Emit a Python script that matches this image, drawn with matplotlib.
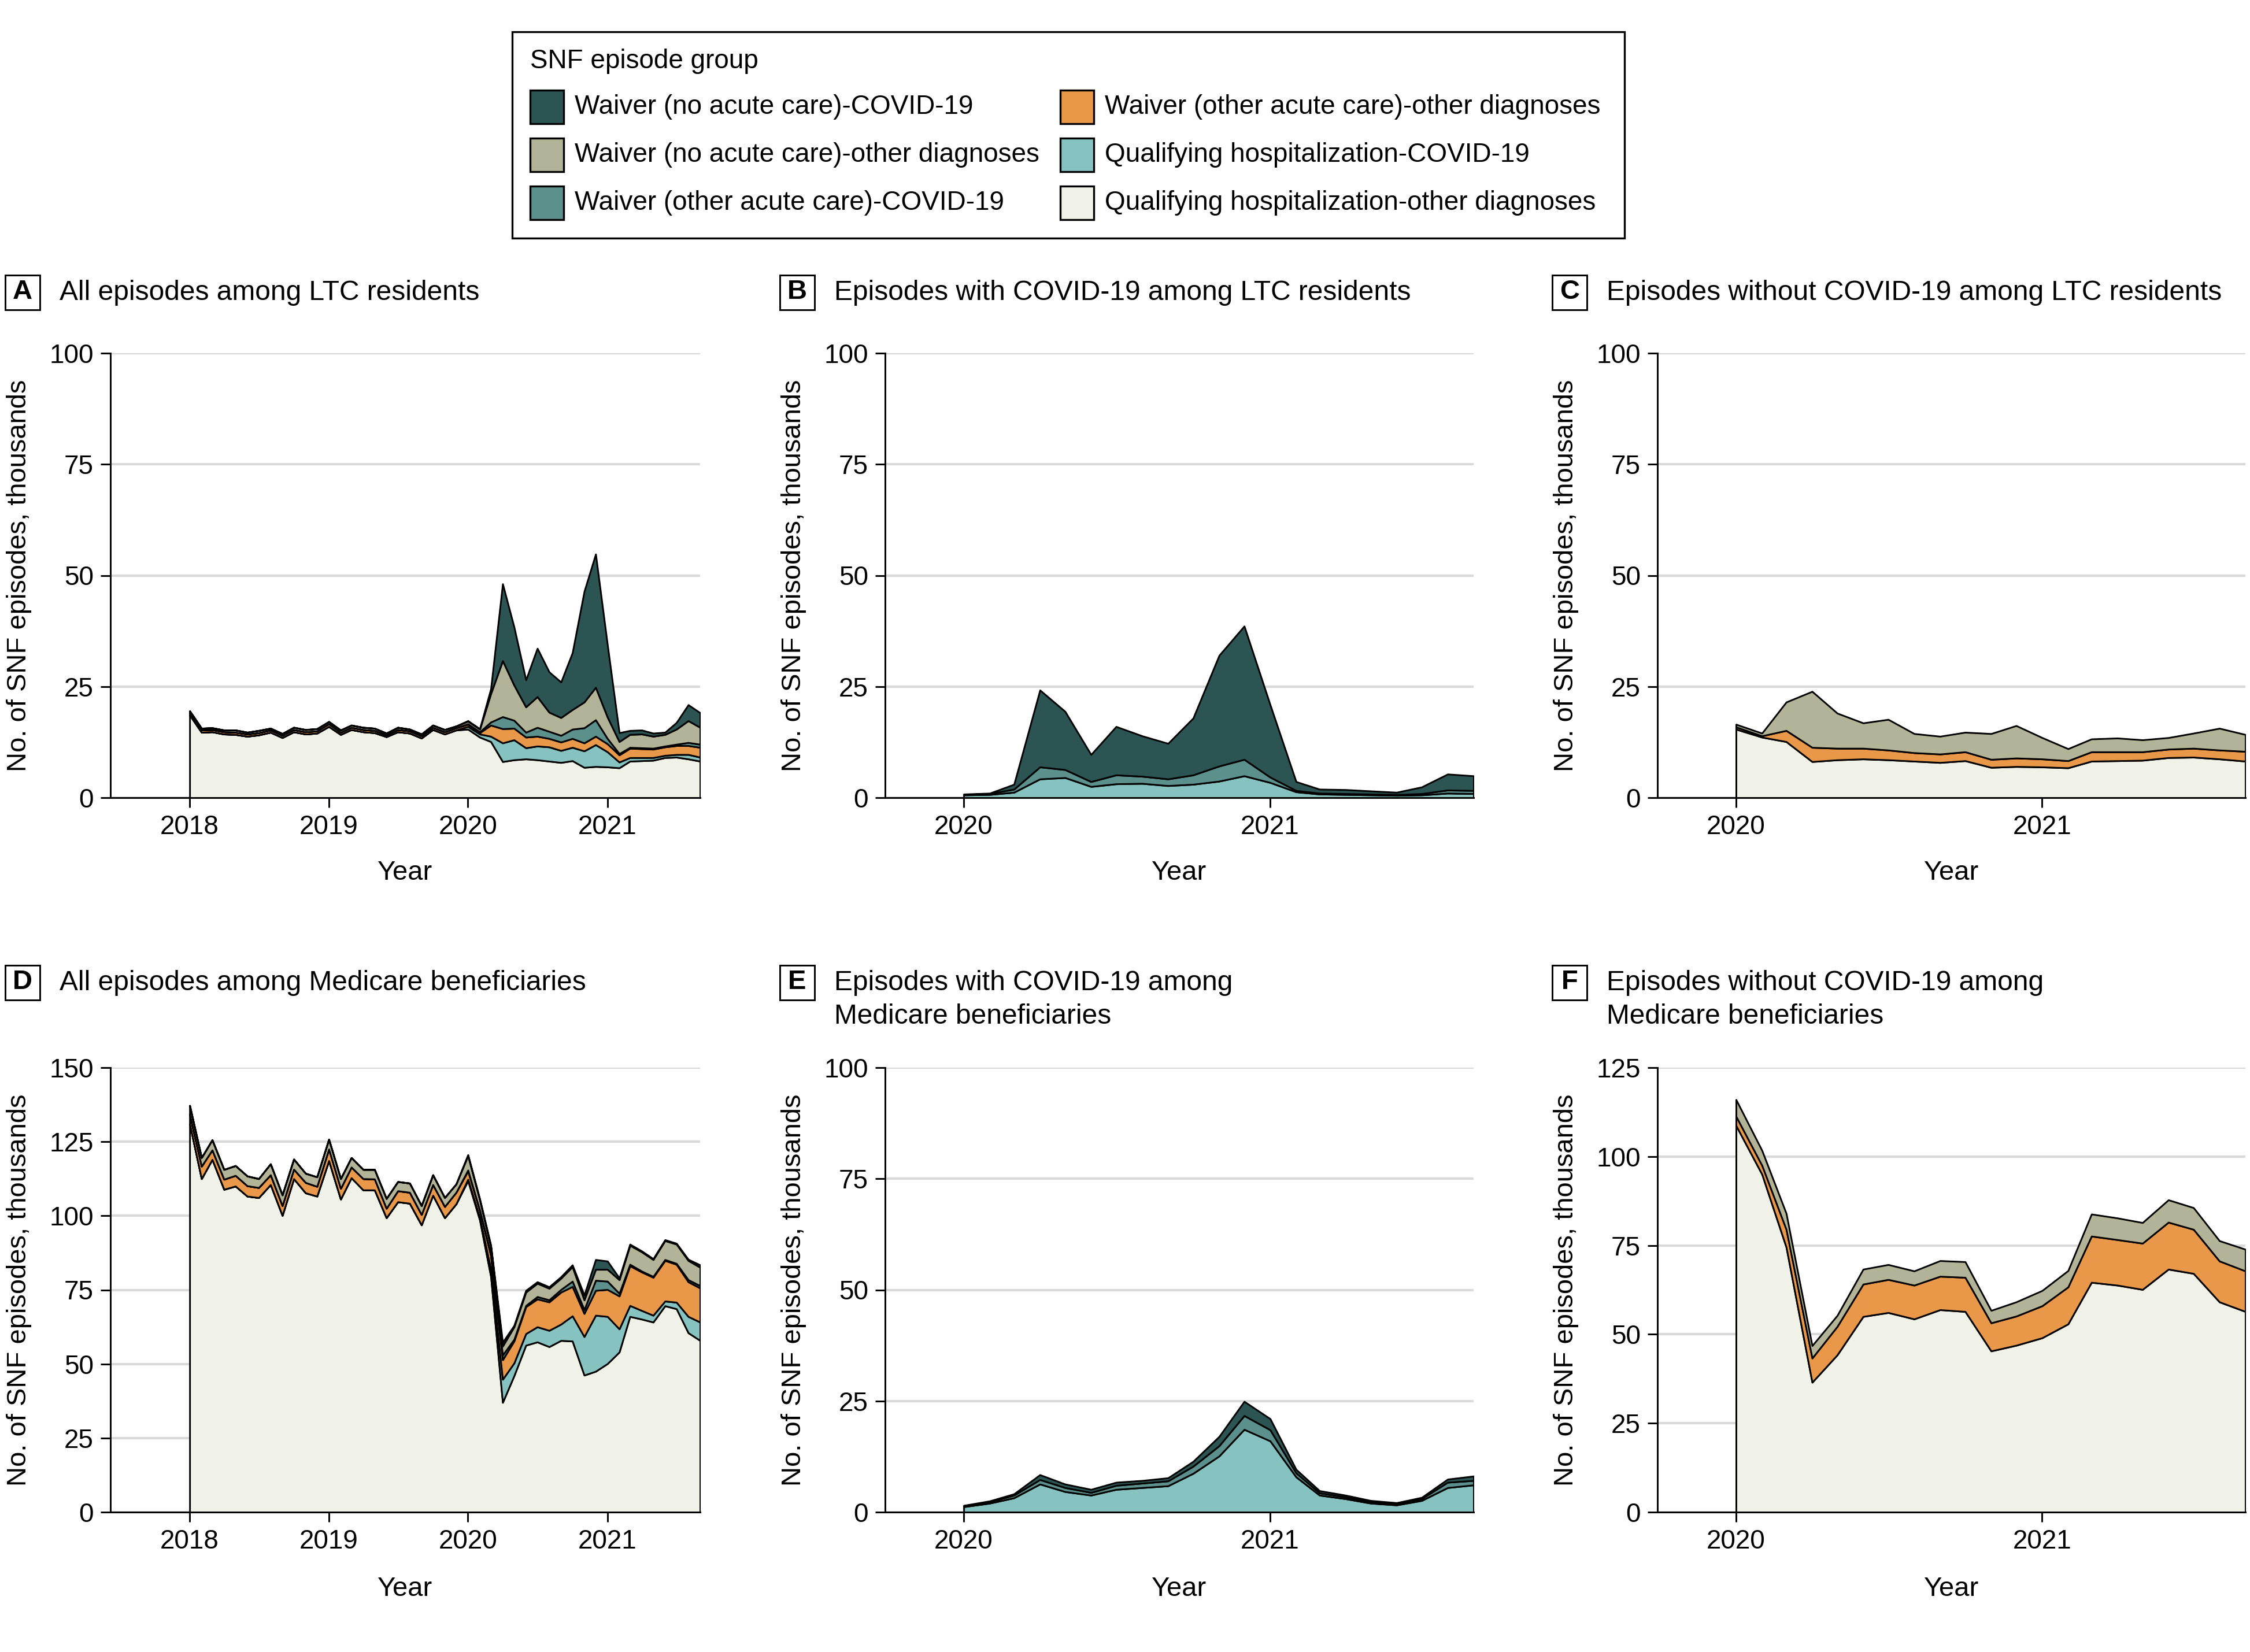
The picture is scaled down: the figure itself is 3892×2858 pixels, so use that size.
import matplotlib
matplotlib.use("Agg")
import matplotlib.pyplot as plt
import matplotlib.dates as mdates
from matplotlib.patches import Rectangle
import pandas as pd

plt.rcParams["font.family"] = ["Liberation Sans", "DejaVu Sans"]

W, H = 3892, 2858

# month axes
MONTHS_ALL = pd.date_range("2018-01-01", "2021-09-01", freq="MS")   # panels A, D
MONTHS_PAN = pd.date_range("2020-01-01", "2021-09-01", freq="MS")   # panels B, C, E, F

GROUPS = [
    "Waiver (no acute care)-COVID-19",
    "Waiver (no acute care)-other diagnoses",
    "Waiver (other acute care)-COVID-19",
    "Waiver (other acute care)-other diagnoses",
    "Qualifying hospitalization-COVID-19",
    "Qualifying hospitalization-other diagnoses",
]
COLORS = {
    GROUPS[0]: "#2b5452",
    GROUPS[1]: "#b3b497",
    GROUPS[2]: "#5b908d",
    GROUPS[3]: "#e89848",
    GROUPS[4]: "#86c2c0",
    GROUPS[5]: "#f0f2e7",
}

# ---- LTC residents, 2018-2019 (thousands) ----
A_QUAL_OTHER_1819 = [18.6, 14.7, 14.8, 14.3, 14.2, 13.8, 14.1, 14.7, 13.5, 14.8, 14.3, 14.5,
                     16.0, 14.2, 15.3, 14.8, 14.6, 13.7, 14.8, 14.5, 13.4, 15.3, 14.3, 15.2]
A_WAIVER_OTHER_OTHER_1819 = [0.5, 0.5, 0.5, 0.5, 0.5, 0.5, 0.5, 0.5, 0.5, 0.5, 0.5, 0.5,
                             0.6, 0.5, 0.5, 0.5, 0.5, 0.4, 0.5, 0.5, 0.5, 0.5, 0.5, 0.5]
A_WAIVER_NO_OTHER_1819 = [0.4, 0.4, 0.4, 0.4, 0.5, 0.4, 0.5, 0.4, 0.4, 0.5, 0.5, 0.5,
                          0.5, 0.5, 0.5, 0.5, 0.5, 0.4, 0.5, 0.4, 0.4, 0.5, 0.5, 0.4]

# ---- B: LTC residents, episodes with COVID-19, 2020-2021 ----
B_QUAL_COVID = [0.6, 0.7, 1.2, 4.2, 4.5, 2.5, 3.1, 3.2, 2.7, 3.0, 3.7, 4.9, 3.4, 1.3, 0.8,
                0.7, 0.6, 0.5, 0.6, 1.0, 0.9]
B_WAIVER_OTHER_COVID = [0.1, 0.2, 0.7, 2.7, 1.8, 1.1, 2.0, 1.6, 1.5, 2.1, 3.4, 3.7, 1.2, 0.3, 0.2,
                        0.2, 0.2, 0.2, 0.3, 0.7, 0.7]
B_WAIVER_NO_COVID = [0.1, 0.1, 1.1, 17.3, 13.1, 6.1, 10.9, 9.1, 8.0, 12.8, 24.9, 30.0, 16.3, 2.0, 0.9,
                     0.9, 0.7, 0.5, 1.5, 3.6, 3.3]

# ---- C: LTC residents, episodes without COVID-19, 2020-2021 ----
C_QUAL_OTHER = [15.4, 13.6, 12.6, 8.1, 8.5, 8.7, 8.5, 8.2, 7.9, 8.3, 6.8, 7.0, 6.9, 6.7, 8.2,
                8.3, 8.4, 9.0, 9.1, 8.7, 8.2]
C_WAIVER_OTHER_OTHER = [0.5, 0.3, 2.5, 3.2, 2.6, 2.4, 2.2, 1.9, 1.9, 2.0, 1.8, 1.9, 1.8, 1.6, 2.1,
                        2.0, 1.9, 1.9, 2.0, 2.0, 2.2]
C_WAIVER_NO_OTHER = [0.6, 0.6, 6.4, 12.6, 7.9, 5.7, 6.9, 4.3, 4.0, 4.4, 5.8, 7.3, 4.8, 2.7, 2.9,
                     3.1, 2.7, 2.6, 3.4, 4.9, 3.8]

# ---- D: Medicare beneficiaries, all episodes, 2018-2021 ----
D_QUAL_OTHER = [131.0, 112.5, 119.0, 108.9, 110.0, 106.6, 106.1, 110.5, 100.1, 112.5, 107.7, 106.6,
                118.6, 105.6, 112.8, 108.7, 108.7, 99.3, 104.7, 104.2, 96.9, 106.9, 99.3, 104.0,
                111.8, 98.5, 79.5, 37.0, 46.0, 56.3, 57.4, 55.8, 57.9, 57.7, 46.2, 47.5,
                50.1, 54.0, 66.0, 65.1, 64.1, 69.6, 68.6, 60.5, 57.9]
D_QUAL_COVID = [0] * 24 + [0.5, 0.8, 2.5, 7.8, 4.3, 3.9, 5.1, 5.5, 5.5, 8.5, 13.0, 18.9,
                           15.9, 7.8, 3.7, 2.9, 2.3, 1.6, 2.2, 5.5, 6.2]
D_WAIVER_OTHER_OTHER = [3.2, 4.2, 3.2, 3.4, 3.6, 3.5, 3.4, 3.3, 3.3, 3.2, 3.5, 3.3,
                        3.9, 3.6, 3.6, 3.8, 3.7, 3.2, 3.7, 3.7, 3.5, 3.6, 3.8, 3.9,
                        2.8, 2.4, 4.5, 6.6, 7.4, 9.1, 9.4, 9.6, 10.8, 9.9, 7.8, 8.4,
                        9.1, 11.1, 13.4, 13.0, 12.8, 13.7, 12.8, 11.7, 11.5]
D_WAIVER_OTHER_COVID = [0] * 24 + [0.3, 0.2, 0.5, 1.6, 0.6, 0.4, 0.8, 0.7, 0.9, 1.8, 1.3, 3.4,
                                   2.8, 0.9, 0.5, 0.3, 0.3, 0.3, 0.3, 0.7, 0.8]
D_WAIVER_NO_OTHER = [3.0, 2.9, 3.4, 3.3, 3.3, 3.3, 3.0, 3.7, 3.6, 3.4, 3.1, 3.2,
                     3.3, 3.3, 3.2, 3.1, 3.2, 3.3, 3.1, 3.1, 3.0, 3.3, 3.0, 2.8,
                     4.9, 3.4, 2.6, 3.0, 4.2, 4.5, 4.5, 3.9, 3.8, 4.9, 3.3, 3.7,
                     4.0, 4.6, 6.4, 6.5, 5.7, 6.4, 6.5, 6.5, 6.2]
D_WAIVER_NO_COVID = [0] * 24 + [0.3, 0.4, 0.5, 1.3, 0.5, 0.6, 0.5, 0.5, 0.5, 0.6, 1.6, 3.3,
                                2.8, 0.6, 0.4, 0.3, 0.3, 0.3, 0.3, 0.4, 0.8]

# ---- E: Medicare beneficiaries, episodes with COVID-19 ----
E_QUAL_COVID = [1.2, 2.0, 3.2, 6.3, 4.6, 3.8, 5.1, 5.5, 5.9, 8.7, 12.6, 18.6, 16.0, 7.9, 3.8,
                3.0, 2.0, 1.6, 2.6, 5.5, 6.1]
E_WAIVER_OTHER_COVID = [0.2, 0.3, 0.6, 1.0, 0.9, 0.6, 0.9, 1.0, 1.1, 1.6, 2.3, 3.1, 2.5, 0.9, 0.5,
                        0.4, 0.3, 0.3, 0.4, 1.2, 1.0]
E_WAIVER_NO_COVID = [0.1, 0.2, 0.3, 1.1, 0.8, 0.7, 0.7, 0.6, 0.7, 1.1, 2.1, 3.2, 2.5, 0.8, 0.5,
                     0.4, 0.3, 0.2, 0.3, 0.7, 1.0]

# ---- F: Medicare beneficiaries, episodes without COVID-19 ----
F_QUAL_OTHER = [108.7, 95.0, 74.5, 36.5, 44.2, 55.0, 56.1, 54.3, 56.9, 56.4, 45.3, 46.9, 49.0,
                52.9, 64.6, 63.8, 62.6, 68.3, 67.1, 59.1, 56.4]
F_WAIVER_OTHER_OTHER = [2.6, 2.5, 5.0, 6.8, 8.0, 9.1, 9.3, 9.5, 9.4, 9.6, 7.9, 8.2, 9.0,
                        10.4, 13.0, 12.8, 13.0, 13.2, 12.4, 11.5, 11.4]
F_WAIVER_NO_OTHER = [4.7, 4.2, 4.5, 3.5, 3.1, 4.2, 4.2, 4.0, 4.4, 4.4, 3.5, 4.0, 4.3,
                     4.6, 6.2, 6.1, 5.8, 6.3, 6.1, 5.7, 6.1]

# panel A combines 2018-2019 with the B and C groups for 2020-2021
ZEROS_1819 = [0] * 24
A_LAYERS = {
    GROUPS[5]: A_QUAL_OTHER_1819 + C_QUAL_OTHER,
    GROUPS[4]: ZEROS_1819 + B_QUAL_COVID,
    GROUPS[3]: A_WAIVER_OTHER_OTHER_1819 + C_WAIVER_OTHER_OTHER,
    GROUPS[2]: ZEROS_1819 + B_WAIVER_OTHER_COVID,
    GROUPS[1]: A_WAIVER_NO_OTHER_1819 + C_WAIVER_NO_OTHER,
    GROUPS[0]: ZEROS_1819 + B_WAIVER_NO_COVID,
}
B_LAYERS = {GROUPS[4]: B_QUAL_COVID, GROUPS[2]: B_WAIVER_OTHER_COVID, GROUPS[0]: B_WAIVER_NO_COVID}
C_LAYERS = {GROUPS[5]: C_QUAL_OTHER, GROUPS[3]: C_WAIVER_OTHER_OTHER, GROUPS[1]: C_WAIVER_NO_OTHER}
D_LAYERS = {
    GROUPS[5]: D_QUAL_OTHER,
    GROUPS[4]: D_QUAL_COVID,
    GROUPS[3]: D_WAIVER_OTHER_OTHER,
    GROUPS[2]: D_WAIVER_OTHER_COVID,
    GROUPS[1]: D_WAIVER_NO_OTHER,
    GROUPS[0]: D_WAIVER_NO_COVID,
}
E_LAYERS = {GROUPS[4]: E_QUAL_COVID, GROUPS[2]: E_WAIVER_OTHER_COVID, GROUPS[0]: E_WAIVER_NO_COVID}
F_LAYERS = {GROUPS[5]: F_QUAL_OTHER, GROUPS[3]: F_WAIVER_OTHER_OTHER, GROUPS[1]: F_WAIVER_NO_OTHER}

PANELS = [
    ("A", "All episodes among LTC residents", MONTHS_ALL, A_LAYERS, 100, 0, 0),
    ("B", "Episodes with COVID-19 among LTC residents", MONTHS_PAN, B_LAYERS, 100, 0, 1),
    ("C", "Episodes without COVID-19 among LTC residents", MONTHS_PAN, C_LAYERS, 100, 0, 2),
    ("D", "All episodes among Medicare beneficiaries", MONTHS_ALL, D_LAYERS, 150, 1, 0),
    ("E", "Episodes with COVID-19 among\nMedicare beneficiaries", MONTHS_PAN, E_LAYERS, 100, 1, 1),
    ("F", "Episodes without COVID-19 among\nMedicare beneficiaries", MONTHS_PAN, F_LAYERS, 125, 1, 2),
]

COL_L = [191, 1531, 2867]
COL_R = [1211, 2549, 3884]
ROW_T = [611, 1847]
ROW_B = [1380, 2616]
TITLE_Y = [506, 1700]
YEAR_Y = [1510, 2749]


def fx(x):
    return x / W


def fy(y):
    return 1 - y / H


fig = plt.figure(figsize=(W / 300, H / 300), dpi=300)
FS = 11.3

for letter, title, months, layers, ymax, r, c in PANELS:
    l, rr, t, b = COL_L[c], COL_R[c], ROW_T[r], ROW_B[r]
    ax = fig.add_axes([fx(l), fy(b), fx(rr - l), (b - t) / H])
    ax.stackplot(months, *layers.values(), colors=[COLORS[k] for k in layers],
                 edgecolor="black", linewidth=0.7)
    if months is MONTHS_ALL:
        ax.set_xlim(pd.Timestamp("2017-06-07"), pd.Timestamp("2021-09-01"))
    else:
        ax.set_xlim(pd.Timestamp("2019-09-29"), pd.Timestamp("2021-09-01"))
    ax.set_ylim(0, ymax)
    ax.set_yticks(range(0, ymax + 1, 25))
    ax.xaxis.set_major_locator(mdates.YearLocator())
    ax.xaxis.set_major_formatter(mdates.DateFormatter("%Y"))
    ax.yaxis.grid(True, color="#d9d9d9", lw=1.0)
    ax.set_axisbelow(True)
    for s in ("top", "right"):
        ax.spines[s].set_visible(False)
    for s in ("left", "bottom"):
        ax.spines[s].set_linewidth(0.7)
    ax.tick_params(length=4, width=0.7, labelsize=FS - 0.3, pad=3)

    # panel letter box and title
    bcx = l - 152
    fig.add_artist(Rectangle((fx(bcx - 30), fy(TITLE_Y[r] + 30)), fx(60), 60 / H,
                             transform=fig.transFigure, fc="white", ec="black", lw=0.7))
    fig.text(fx(bcx), fy(TITLE_Y[r] - 1), letter, ha="center", va="center",
             fontsize=FS, fontweight="bold")
    fig.text(fx(l - 88), fy(TITLE_Y[r] - 22), title, ha="left", va="top",
             fontsize=FS + 0.2, linespacing=1.38)

    fig.text(fx(l - 158), fy((t + b) / 2), "No. of SNF episodes, thousands",
             rotation=90, ha="center", va="center", fontsize=FS)
    fig.text(fx((l + rr) / 2), fy(YEAR_Y[r]), "Year", ha="center", va="center", fontsize=FS)

# legend
fig.add_artist(Rectangle((fx(886), fy(412)), fx(2810 - 886), (412 - 55) / H,
                         transform=fig.transFigure, fc="white", ec="black", lw=0.8))
fig.text(fx(917), fy(106), "SNF episode group", ha="left", va="center", fontsize=FS - 0.3)
ROWS_Y = [185, 268, 351]
for i, g in enumerate(GROUPS):
    col, row = divmod(i, 3)
    px = [917, 1834][col]
    py = ROWS_Y[row]
    fig.add_artist(Rectangle((fx(px), fy(py + 29)), fx(58), 58 / H,
                             transform=fig.transFigure, fc=COLORS[g], ec="black", lw=0.8))
    fig.text(fx(px + 77), fy(py), g, ha="left", va="center", fontsize=FS - 0.3)

fig.savefig("out.png", dpi=300)
